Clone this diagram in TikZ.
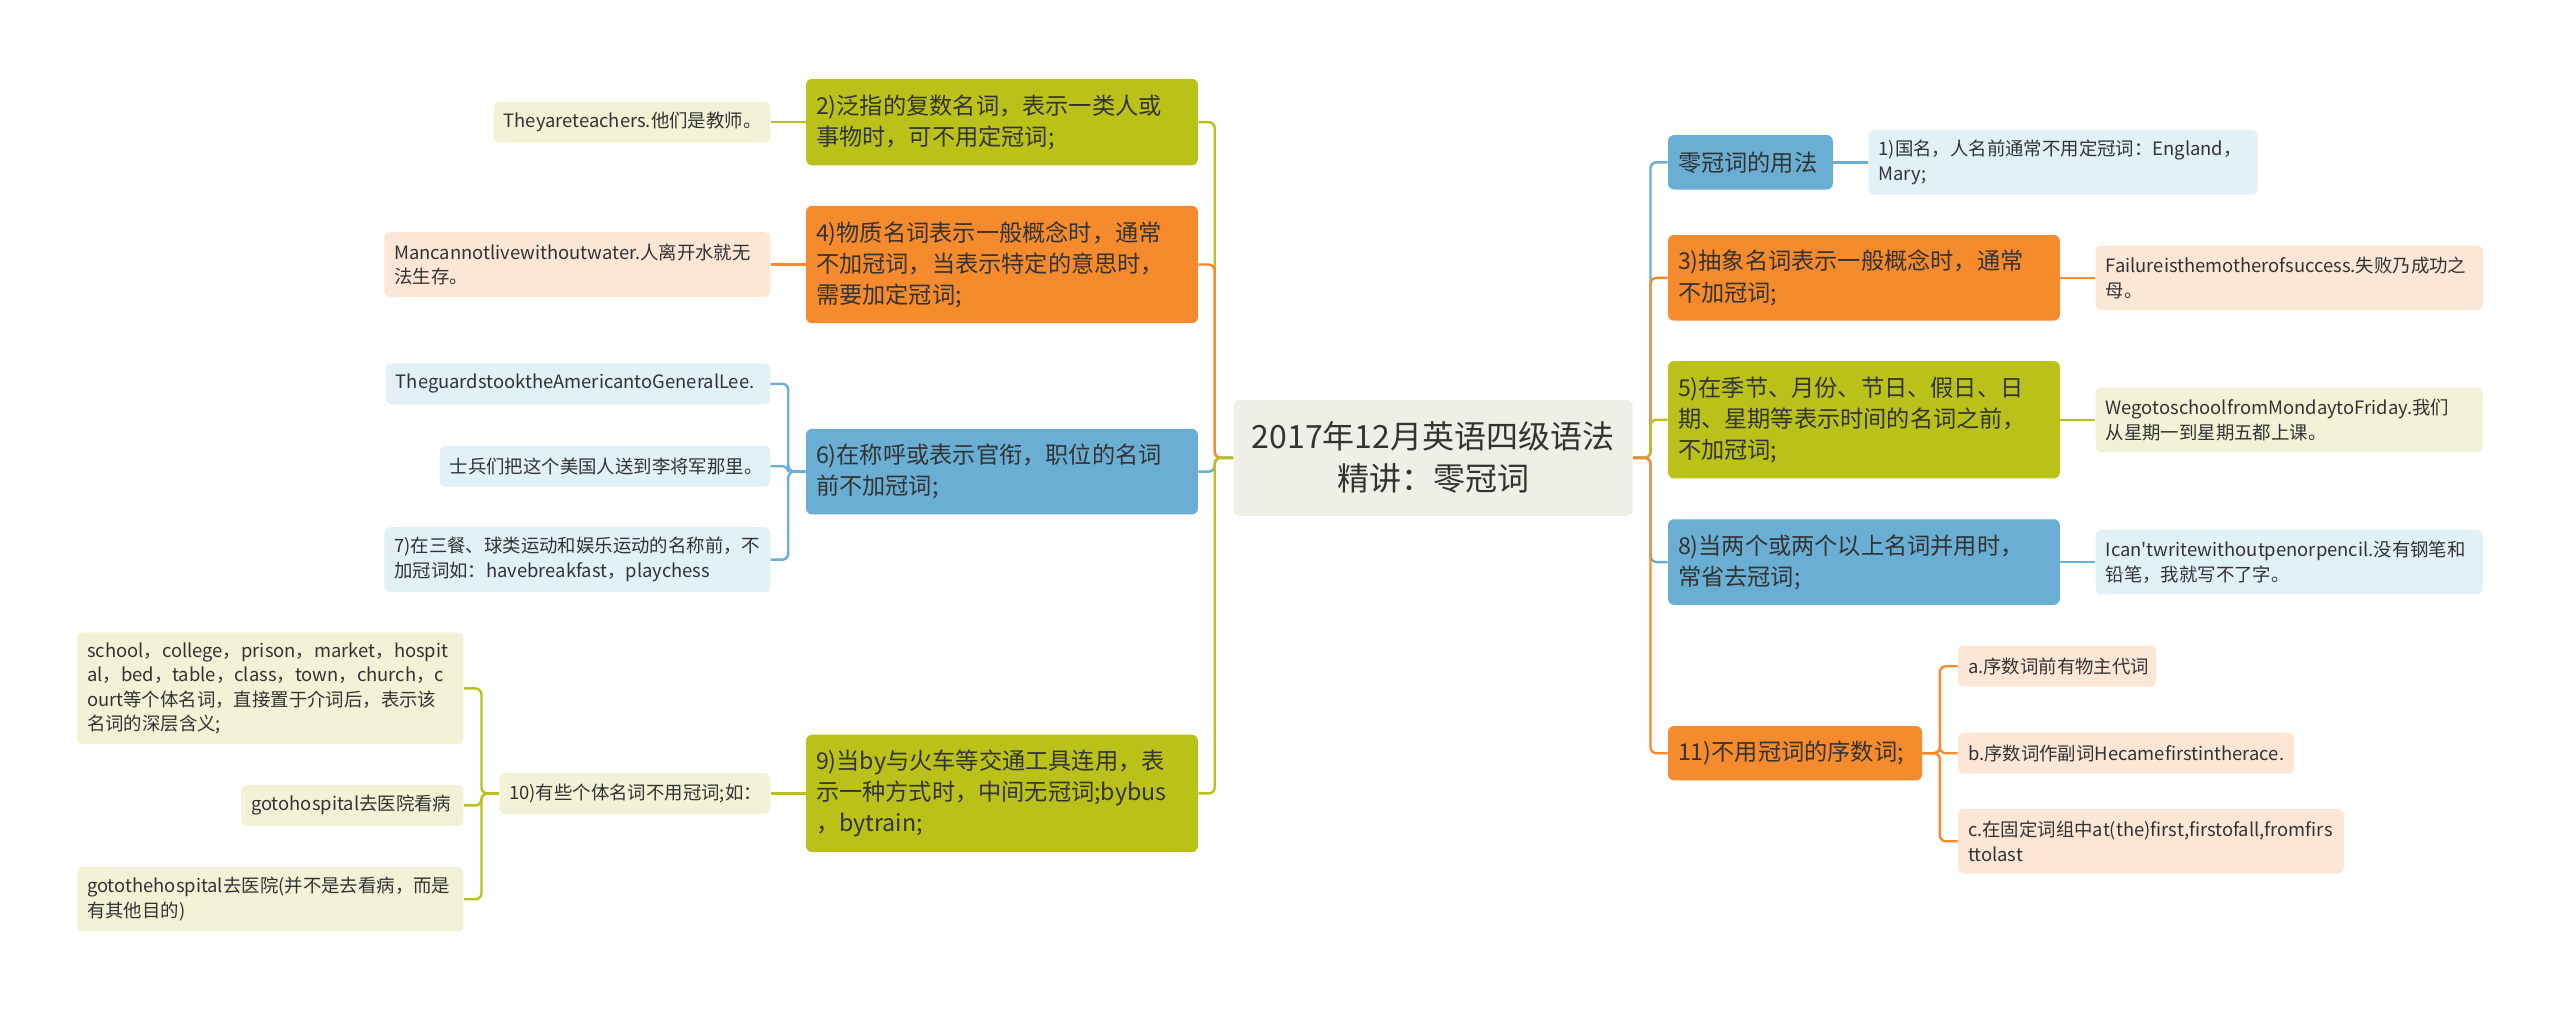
\documentclass[tikz,border=0pt]{standalone}
\usepackage{fontspec}
\setmainfont{Noto Sans CJK SC}[Ligatures=TeXOff]
\usetikzlibrary{positioning}
\definecolor{mgreen}{HTML}{BAC21A}
\definecolor{morange}{HTML}{F58B2C}
\definecolor{mblue}{HTML}{6AAED3}
\definecolor{lgreen}{HTML}{F2F3D6}
\definecolor{lorange}{HTML}{FCE6D6}
\definecolor{lblue}{HTML}{E2F0F8}
\definecolor{rootbg}{HTML}{EFEFE7}
\definecolor{ink}{HTML}{333333}
\tikzset{
    root/.style={fill=rootbg, rounded corners=3pt, inner xsep=5pt, align=center, text=ink, font=\fontsize{16pt}{21pt}\selectfont}, % the title in the middle
    topic/.style={rounded corners=3pt, inner xsep=5pt, align=left, text=ink, font=\fontsize{11.6pt}{15.6pt}\selectfont}, % first level boxes
    leaf/.style={rounded corners=3pt, inner xsep=5pt, align=left, text=ink, font=\fontsize{9.2pt}{12.3pt}\selectfont}, % example boxes
    link/.style={line width=1.2pt, rounded corners=3pt}, % connectors between boxes
}

\begin{document}
\begin{tikzpicture}[x=0.8205pt, y=-0.8205pt]
    \useasboundingbox (0,0) rectangle (1560,616.1);
    \node[root, text width=189.6pt, minimum height=58pt] (root) at (873.3,279) {2017年12月英语四级语法\\精讲：零冠词};
    % right half
    \node[topic, fill=mblue, anchor=west, text width=72.4pt, minimum height=27.2pt] (r1) at (1016.2,98.9) {零冠词的用法};
    \node[topic, fill=morange, anchor=west, text width=185.9pt, minimum height=42.8pt] (r3) at (1016.2,169.3) {3)抽象名词表示一般概念时，通常\\不加冠词;};
    \node[topic, fill=mgreen, anchor=west, text width=185.9pt, minimum height=58.7pt] (r5) at (1016.2,255.8) {5)在季节、月份、节日、假日、日\\期、星期等表示时间的名词之前，\\不加冠词;};
    \node[topic, fill=mblue, anchor=west, text width=185.9pt, minimum height=42.8pt] (r8) at (1016.2,342.5) {8)当两个或两个以上名词并用时，\\常省去冠词;};
    \node[topic, fill=morange, anchor=west, text width=117pt, minimum height=27.2pt] (r11) at (1016.2,459) {11)不用冠词的序数词;};
    \node[leaf, fill=lblue, right=17.5pt of r1, text width=184.5pt, minimum height=32.4pt] (r1a) {1)国名，人名前通常不用定冠词：England，\\Mary;};
    \node[leaf, fill=lorange, right=17.5pt of r3, text width=183.6pt, minimum height=32.4pt] (r3a) {Failureisthemotherofsuccess.失败乃成功之\\母。};
    \node[leaf, fill=lgreen, right=17.5pt of r5, text width=183.6pt, minimum height=32.4pt] (r5a) {WegotoschoolfromMondaytoFriday.我们\\从星期一到星期五都上课。};
    \node[leaf, fill=lblue, right=17.5pt of r8, text width=183.6pt, minimum height=32.4pt] (r8a) {Ican'twritewithoutpenorpencil.没有钢笔和\\铅笔，我就写不了字。};
    \node[leaf, fill=lorange, right=17.6pt of r11, yshift=43.5pt, text width=89.1pt, minimum height=20.5pt] (r11a) {a.序数词前有物主代词};
    \node[leaf, fill=lorange, right=17.6pt of r11, text width=158pt, minimum height=20.5pt] (r11b) {b.序数词作副词Hecamefirstintherace.};
    \node[leaf, fill=lorange, right=17.6pt of r11, yshift=-44pt, text width=183pt, minimum height=32.4pt] (r11c) {c.在固定词组中at(the)first,firstofall,fromfirs\\ttolast};
    % left half
    \node[topic, fill=mgreen, anchor=east, text width=185.9pt, minimum height=43.2pt] (l2) at (730.2,74.4) {2)泛指的复数名词，表示一类人或\\事物时，可不用定冠词;};
    \node[topic, fill=morange, anchor=east, text width=185.9pt, minimum height=58.7pt] (l4) at (730.2,161.2) {4)物质名词表示一般概念时，通常\\不加冠词，当表示特定的意思时，\\需要加定冠词;};
    \node[topic, fill=mblue, anchor=east, text width=185.9pt, minimum height=42.8pt] (l6) at (730.2,287.4) {6)在称呼或表示官衔，职位的名词\\前不加冠词;};
    \node[topic, fill=mgreen, anchor=east, text width=185.9pt, minimum height=58.7pt] (l9) at (730.2,483.5) {9)当by与火车等交通工具连用，表\\示一种方式时，中间无冠词;bybus\\，bytrain;};
    \node[leaf, fill=lgreen, left=17.5pt of l2, text width=128.3pt, minimum height=20.5pt] (l2a) {Theyareteachers.他们是教师。};
    \node[leaf, fill=lorange, left=17.5pt of l4, text width=183pt, minimum height=32.4pt] (l4a) {Mancannotlivewithoutwater.人离开水就无\\法生存。};
    \node[leaf, fill=lblue, left=17.5pt of l6, yshift=43.9pt, text width=182.2pt, minimum height=20.5pt] (l6a) {TheguardstooktheAmericantoGeneralLee.};
    \node[leaf, fill=lblue, left=17.5pt of l6, yshift=2.7pt, text width=155.3pt, minimum height=20.5pt] (l6b) {士兵们把这个美国人送到李将军那里。};
    \node[leaf, fill=lblue, left=17.5pt of l6, yshift=-44pt, text width=183pt, minimum height=32.4pt] (l6c) {7)在三餐、球类运动和娱乐运动的名称前，不\\加冠词如：havebreakfast，playchess};
    \node[leaf, fill=lgreen, left=17.5pt of l9, text width=125.5pt, minimum height=20.5pt] (l10) {10)有些个体名词不用冠词;如：};
    \node[leaf, fill=lgreen, left=17.5pt of l10, yshift=52.5pt, text width=183.2pt, minimum height=56pt] (l10a) {school，college，prison，market，hospit\\al，bed，table，class，town，church，c\\ourt等个体名词，直接置于介词后，表示该\\名词的深层含义;};
    \node[leaf, fill=lgreen, left=17.5pt of l10, yshift=-6pt, text width=101.2pt, minimum height=20.5pt] (l10b) {gotohospital去医院看病};
    \node[leaf, fill=lgreen, left=17.5pt of l10, yshift=-52.9pt, text width=183.2pt, minimum height=32.4pt] (l10c) {gotothehospital去医院(并不是去看病，而是\\有其他目的)};
    % connectors
    \foreach \t/\c in {r1/mblue, r3/morange, r5/mgreen, r8/mblue, r11/morange}
        \draw[link, \c] (root.east) -- ++(8.7pt,0) |- (\t.west);
    \foreach \t/\c in {l2/mgreen, l4/morange, l6/mblue, l9/mgreen}
        \draw[link, \c] (root.west) -- ++(-9.2pt,0) |- (\t.east);
    \draw[link, mblue] (r1.east) -- (r1a.west);
    \draw[link, morange] (r3.east) -- (r3a.west);
    \draw[link, mgreen] (r5.east) -- (r5a.west);
    \draw[link, mblue] (r8.east) -- (r8a.west);
    \foreach \t in {r11a, r11b, r11c}
        \draw[link, morange] (r11.east) -- ++(8.7pt,0) |- (\t.west);
    \draw[link, mgreen] (l2.west) -- (l2a.east);
    \draw[link, morange] (l4.west) -- (l4a.east);
    \foreach \t in {l6a, l6b, l6c}
        \draw[link, mblue] (l6.west) -- ++(-8.7pt,0) |- (\t.east);
    \draw[link, mgreen] (l9.west) -- (l10.east);
    \foreach \t in {l10a, l10b, l10c}
        \draw[link, mgreen] (l10.west) -- ++(-8.7pt,0) |- (\t.east);
\end{tikzpicture}
\end{document}
